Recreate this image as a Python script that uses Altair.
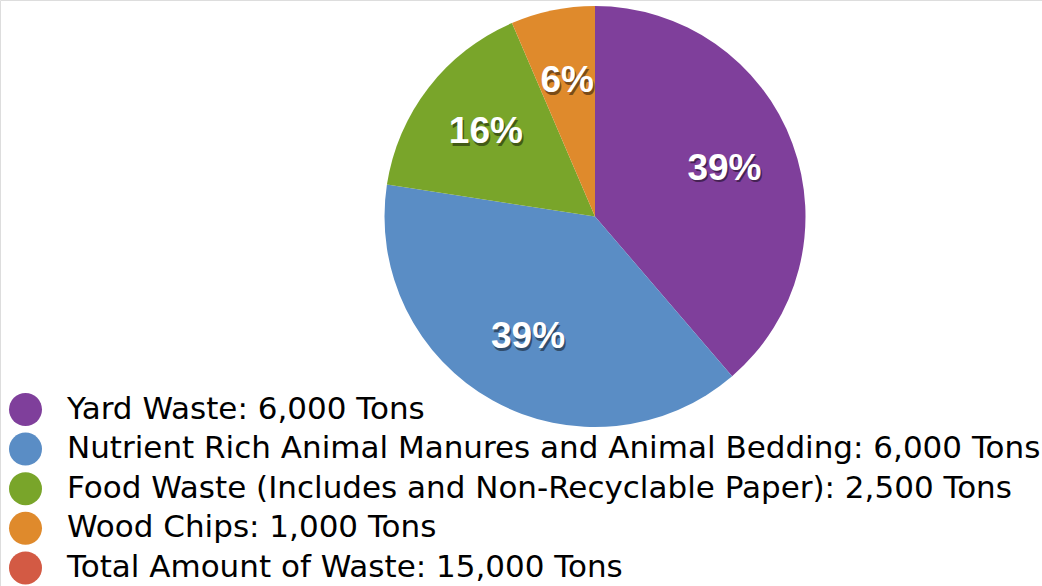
import altair as alt
import pandas as pd

categories = [
    "Yard Waste: 6,000 Tons",
    "Nutrient Rich Animal Manures and Animal Bedding: 6,000 Tons",
    "Food Waste (Includes and Non-Recyclable Paper): 2,500 Tons",
    "Wood Chips: 1,000 Tons",
    "Total Amount of Waste: 15,000 Tons",
]
values = [6000, 6000, 2500, 1000, 0]
pct_labels = ["39%", "39%", "16%", "6%", ""]
colors = ["#7f3f9b", "#5a8dc5", "#79a52a", "#df8a2c", "#d35a44"]

df = pd.DataFrame({
    "cat": categories,
    "value": values,
    "label": pct_labels,
    "order": list(range(len(categories))),
})

LEGEND_FONT = "DejaVu Sans"
LABEL_FONT = "Liberation Sans"
CX, CY = 595, 216.5

base = alt.Chart(df).encode(
    theta=alt.Theta("value:Q", stack=True),
    order=alt.Order("order:Q"),
)

arcs = base.mark_arc(outerRadius=210.5, stroke=None).encode(
    x=alt.value(CX),
    y=alt.value(CY),
    color=alt.Color(
        "cat:N",
        sort=categories,
        scale=alt.Scale(domain=categories, range=colors),
        legend=alt.Legend(
            title=None,
            orient="none",
            legendX=9,
            legendY=393,
            symbolType="circle",
            symbolSize=1089,
            symbolStrokeWidth=0,
            symbolOpacity=1,
            labelFont=LEGEND_FONT,
            labelFontSize=31,
            labelColor="#000000",
            labelLimit=1200,
            labelOffset=25,
            rowPadding=6.6,
            padding=0,
        ),
    ),
)

shadow = base.mark_text(
    radius=138, font=LABEL_FONT, fontSize=37, fontWeight="bold",
    color="#000000", opacity=0.45, dx=1.5, dy=2.5,
).encode(x=alt.value(CX), y=alt.value(CY), text="label:N")

texts = base.mark_text(
    radius=138, font=LABEL_FONT, fontSize=37, fontWeight="bold", color="#ffffff",
).encode(x=alt.value(CX), y=alt.value(CY), text="label:N")

chart = alt.layer(arcs, shadow, texts).properties(
    width=1042, height=586,
    autosize=alt.AutoSizeParams(type="none"),
    padding=0,
).configure_view(stroke=None).configure(background="#ffffff")

chart.save("out.html", embed_options={"renderer": "svg", "actions": False})
